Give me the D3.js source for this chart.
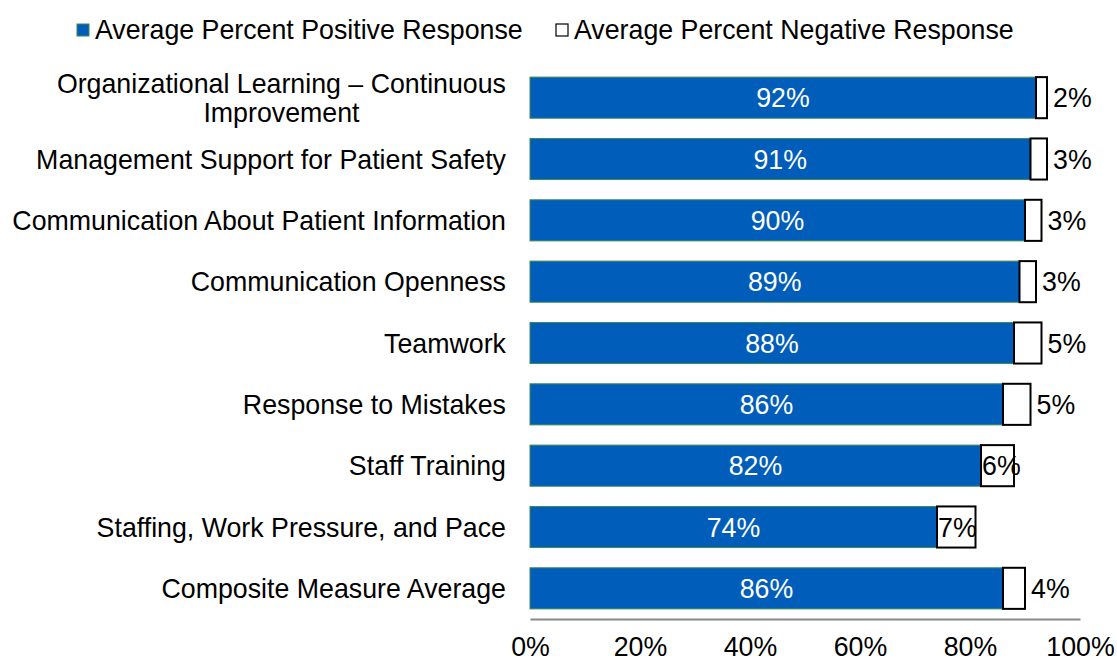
<!DOCTYPE html>
<html>
<head>
<meta charset="utf-8">
<script src="https://cdn.jsdelivr.net/npm/d3@7"></script>
<style>
  html, body { margin: 0; padding: 0; background: #fff; }
  svg { display: block; font-family: "Liberation Sans", Arial, sans-serif; }
</style>
</head>
<body>
<svg id="chart" width="1117" height="661"></svg>
<script>
// Patient safety culture composites: share of positive vs. negative responses
const categories = [
  ["Organizational Learning \u2013 Continuous", "Improvement"],
  ["Management Support for Patient Safety"],
  ["Communication About Patient Information"],
  ["Communication Openness"],
  ["Teamwork"],
  ["Response to Mistakes"],
  ["Staff Training"],
  ["Staffing, Work Pressure, and Pace"],
  ["Composite Measure Average"]
];
const positive = [92, 91, 90, 89, 88, 86, 82, 74, 86];
const negative = [2, 3, 3, 3, 5, 5, 6, 7, 4];
const seriesNames = ["Average Percent Positive Response", "Average Percent Negative Response"];
const xTicks = [0, 20, 40, 60, 80, 100];

const blue = "#005DB9";
const blueEdge = "#3F8A50";
const fontSize = 26.75;

const svg = d3.select("#chart");
const keys = categories.map((c, i) => i);

const x = d3.scaleLinear().domain([0, 100]).range([530, 1080]);
const y = d3.scaleBand().domain(keys).range([67, 619])
  .paddingInner(0.33).paddingOuter(0.165);

const rows = keys.map(i => ({ i, pos: positive[i], neg: negative[i] }));

// Positive segment
svg.append("g").selectAll("rect").data(rows).join("rect")
  .attr("x", d => x(0))
  .attr("y", d => y(d.i))
  .attr("width", d => x(d.pos) - x(0))
  .attr("height", y.bandwidth())
  .attr("fill", blue)
  .attr("stroke", blueEdge)
  .attr("stroke-width", 1);

// Negative segment
svg.append("g").selectAll("rect").data(rows).join("rect")
  .attr("x", d => x(d.pos))
  .attr("y", d => y(d.i))
  .attr("width", d => x(d.pos + d.neg) - x(d.pos))
  .attr("height", y.bandwidth())
  .attr("fill", "#fff")
  .attr("stroke", "#000")
  .attr("stroke-width", 2);

// Value labels: positive centred inside, negative beside the segment
svg.append("g").selectAll("text").data(rows).join("text")
  .attr("x", d => x(d.pos / 2))
  .attr("y", d => y(d.i) + y.bandwidth() / 2)
  .attr("dy", "0.36em")
  .attr("text-anchor", "middle")
  .attr("fill", "#fff")
  .attr("font-size", fontSize)
  .text(d => d.pos + "%");

svg.append("g").selectAll("text").data(rows).join("text")
  .attr("x", d => d.neg >= 6 ? x(d.pos) + 1 : x(d.pos + d.neg) + 6)
  .attr("y", d => y(d.i) + y.bandwidth() / 2)
  .attr("dy", "0.36em")
  .attr("text-anchor", "start")
  .attr("fill", "#000")
  .attr("font-size", fontSize)
  .text(d => d.neg + "%");

// Category labels
const catG = svg.append("g");
rows.forEach(d => {
  const lines = categories[d.i];
  const cy = y(d.i) + y.bandwidth() / 2;
  const lh = 29;
  lines.forEach((ln, k) => {
    catG.append("text")
      .attr("x", 506)
      .attr("y", cy + (k - (lines.length - 1) / 2) * lh)
      .attr("dy", "0.36em")
      .attr("text-anchor", "end")
      .attr("font-size", fontSize)
      .attr("fill", "#000")
      .text(ln);
  });
});
// second line of a wrapped label is centred under the first
catG.selectAll("text").filter(function () { return this.textContent === "Improvement"; })
  .each(function () {
    const first = catG.selectAll("text").filter(function () {
      return this.textContent === categories[0][0];
    }).node();
    const w = first.getComputedTextLength();
    d3.select(this).attr("text-anchor", "middle").attr("x", 506 - w / 2);
  });

// X axis
const xAxis = d3.axisBottom(x).tickValues(xTicks).tickFormat(d => d + "%").tickSize(0).tickPadding(18);
const ax = svg.append("g").attr("transform", "translate(0,619)").call(xAxis);
ax.select(".domain").attr("stroke", "#888").attr("stroke-width", 2);
ax.selectAll("text").attr("font-size", fontSize).attr("fill", "#000")
  .attr("font-family", "'Liberation Sans', Arial, sans-serif");

// Legend
const legend = svg.append("g");
const legendItems = [
  { x: 77, name: seriesNames[0], fill: blue, stroke: blueEdge, sw: 1 },
  { x: 556, name: seriesNames[1], fill: "#fff", stroke: "#000", sw: 1.2 }
];
legendItems.forEach(it => {
  legend.append("rect").attr("x", it.x).attr("y", 24).attr("width", 12).attr("height", 12)
    .attr("fill", it.fill).attr("stroke", it.stroke).attr("stroke-width", it.sw);
  legend.append("text").attr("x", it.x + 18).attr("y", 29).attr("dy", "0.36em")
    .attr("font-size", fontSize).attr("fill", "#000").text(it.name);
});
</script>
</body>
</html>
